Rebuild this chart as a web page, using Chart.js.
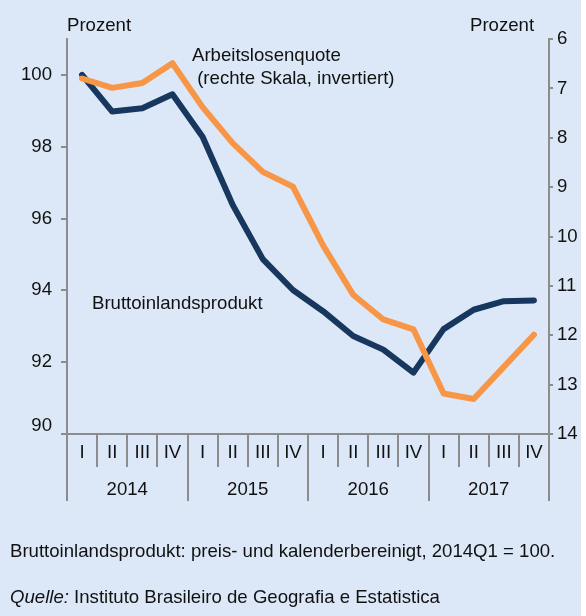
<!DOCTYPE html>
<html lang="de">
<head>
<meta charset="utf-8">
<script src="https://cdn.jsdelivr.net/npm/chart.js@4/dist/chart.umd.min.js"></script>
<style>
  html, body { margin: 0; padding: 0; background: #ffffff; }
  #wrap { position: relative; width: 586px; height: 616px; overflow: hidden; }
  #bg { position: absolute; left: 0; top: 0; width: 581px; height: 616px; background: #dce8f7; }
  canvas { position: absolute; left: 0; top: 0; }
  .t { position: absolute; font-family: 'Liberation Sans', Arial, sans-serif; font-size: 18.6px; line-height: 22px; color: #111; white-space: pre; }
</style>
</head>
<body>
<div id="wrap">
  <div id="bg"></div>
  <canvas id="c" width="586" height="616"></canvas>
  <div class="t" style="left:67px; top:14px;">Prozent</div>
  <div class="t" style="left:470px; top:14px;">Prozent</div>
  <div class="t" style="left:192px; top:44px; line-height:22.6px;">Arbeitslosenquote
 (rechte Skala, invertiert)</div>
  <div class="t" style="left:92px; top:292px;">Bruttoinlandsprodukt</div>
  <div class="t" style="left:10px; top:540px;">Bruttoinlandsprodukt: preis- und kalenderbereinigt, 2014Q1 = 100.</div>
  <div class="t" style="left:10px; top:586px;"><i>Quelle:</i> Instituto Brasileiro de Geografia e Estatistica</div>
</div>
<script>
// ---- data ----
const quarterLabels = ['I','II','III','IV','I','II','III','IV','I','II','III','IV','I','II','III','IV'];
const yearLabels = ['2014','2015','2016','2017'];
// Bruttoinlandsprodukt, 2014Q1 = 100 (left axis)
const gdp = [100.0, 98.98, 99.07, 99.46, 98.28, 96.38, 94.87, 94.01, 93.42, 92.73, 92.35, 91.71, 92.92, 93.46, 93.70, 93.72];
// Arbeitslosenquote in % (right axis, inverted)
const unemployment = [6.80, 6.99, 6.89, 6.49, 7.38, 8.11, 8.69, 8.99, 10.18, 11.18, 11.68, 11.88, 13.18, 13.29, 12.64, 11.99];
// left-axis tick values
const leftTicks = [90, 92, 94, 96, 98, 100];

const gray = '#8c8c8c';
const txt = '#111111';
const fontFam = "'Liberation Sans', Arial, sans-serif";
const tickFont = { family: fontFam, size: 18.6 };

new Chart(document.getElementById('c').getContext('2d'), {
  type: 'line',
  data: {
    labels: quarterLabels,
    datasets: [
      {
        label: 'Bruttoinlandsprodukt',
        data: gdp,
        xAxisID: 'x',
        yAxisID: 'y',
        borderColor: '#17375e',
        backgroundColor: '#17375e',
        borderWidth: 6,
        pointRadius: 0,
        tension: 0,
        borderCapStyle: 'round',
        borderJoinStyle: 'round',
        order: 2
      },
      {
        label: 'Arbeitslosenquote',
        data: unemployment,
        xAxisID: 'x',
        yAxisID: 'y1',
        borderColor: '#f79646',
        backgroundColor: '#f79646',
        borderWidth: 6,
        pointRadius: 0,
        tension: 0,
        borderCapStyle: 'round',
        borderJoinStyle: 'round',
        order: 1
      }
    ]
  },
  options: {
    responsive: false,
    animation: false,
    devicePixelRatio: 1,
    layout: { padding: { top: 39, bottom: 115, left: 0, right: 0 } },
    plugins: { legend: { display: false }, tooltip: { enabled: false } },
    scales: {
      x: {
        type: 'category',
        position: 'bottom',
        offset: true,
        weight: 0,
        grid: { offset: true, drawOnChartArea: false, drawTicks: true, tickLength: 33, color: gray, lineWidth: 2 },
        border: { display: true, color: gray, width: 2 },
        ticks: { font: tickFont, color: txt, padding: -25, autoSkip: false, maxRotation: 0, minRotation: 0 },
        afterFit: s => { s.height = 33; }
      },
      year: {
        type: 'category',
        labels: yearLabels,
        position: 'bottom',
        offset: true,
        weight: 1,
        grid: { offset: true, drawOnChartArea: false, drawTicks: true, tickLength: 34, color: gray, lineWidth: 2 },
        border: { display: false },
        ticks: { font: tickFont, color: txt, padding: -22, autoSkip: false, maxRotation: 0, minRotation: 0 },
        afterFit: s => { s.height = 34; }
      },
      y: {
        position: 'left',
        min: 90,
        max: 101,
        bounds: 'data',
        grid: { drawOnChartArea: false, drawTicks: true, tickLength: 6, color: gray, lineWidth: 2 },
        border: { display: true, color: gray, width: 2 },
        afterBuildTicks: s => { s.ticks = leftTicks.map(v => ({ value: v })); },
        ticks: {
          padding: 9,
          color: txt,
          font: { family: fontFam, size: 18.6, lineHeight: 0.85 },
          callback: v => (v === 90 ? ['90', ''] : String(v))
        },
        afterFit: s => { s.width = 67; }
      },
      y1: {
        position: 'right',
        min: 6,
        max: 14,
        reverse: true,
        bounds: 'data',
        grid: { drawOnChartArea: false, drawTicks: true, tickLength: 4, color: gray, lineWidth: 2 },
        border: { display: true, color: gray, width: 2 },
        ticks: { stepSize: 1, padding: 4, color: txt, font: tickFont },
        afterFit: s => { s.width = 37; }
      }
    }
  }
});
</script>
</body>
</html>
